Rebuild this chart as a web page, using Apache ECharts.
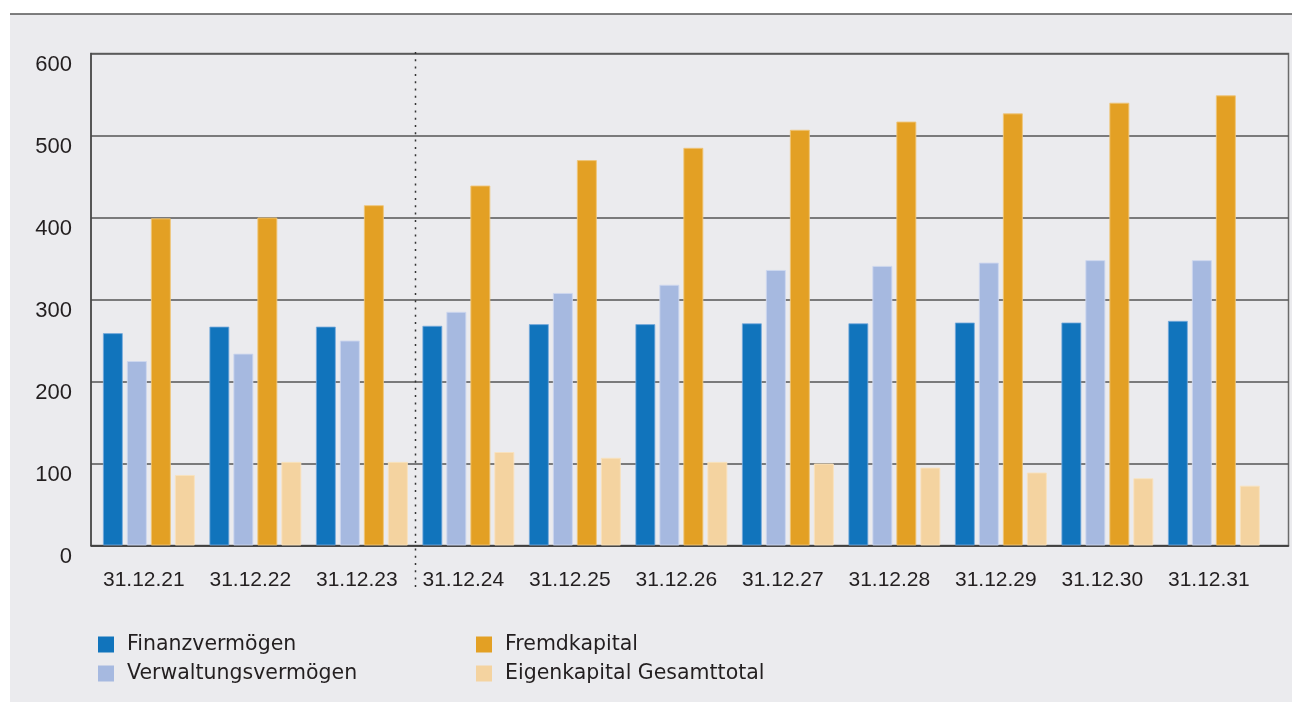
<!DOCTYPE html>
<html>
<head>
<meta charset="utf-8">
<script src="https://cdn.jsdelivr.net/npm/echarts@6/dist/echarts.min.js"></script>
<style>
  html, body { margin: 0; padding: 0; background: #ffffff; }
  #chart { width: 1292px; height: 702px; }
</style>
</head>
<body>
<div id="chart"></div>
<script>
// Balance sheet development, values in millions
const categories = ['31.12.21', '31.12.22', '31.12.23', '31.12.24', '31.12.25', '31.12.26',
                    '31.12.27', '31.12.28', '31.12.29', '31.12.30', '31.12.31'];
const finanzvermoegen      = [259, 267, 267, 268, 270, 270, 271, 271, 272, 272, 274];
const verwaltungsvermoegen = [225, 234, 250, 285, 308, 318, 336, 341, 345, 348, 348];
const fremdkapital         = [399, 400, 415, 439, 470, 485, 507, 517, 527, 540, 549];
const eigenkapital         = [86, 102, 102, 114, 107, 102, 100, 95, 89, 82, 73];
const yTicks = { min: 0, max: 600, step: 100 };

// index of the first projected year; a dotted divider is drawn before it
const forecastStart = 3;

const textColor = '#231f20';
const labelFont = 'Liberation Sans, Arial, Helvetica, sans-serif';
const legendFont = 'DejaVu Sans, Verdana, sans-serif';

const chart = echarts.init(document.getElementById('chart'), null, { renderer: 'canvas' });

function bar(name, values, color, border) {
  return {
    name: name,
    type: 'bar',
    xAxisIndex: 1,
    yAxisIndex: 1,
    data: values,
    barWidth: 20,
    barGap: '20%',
    itemStyle: { color: color, borderColor: border, borderWidth: 1 },
    emphasis: { disabled: true }
  };
}

const legendText = {
  fontFamily: legendFont,
  fontSize: 20.5,
  color: textColor,
  lineHeight: 20,
  padding: [0, 0, 0, 8]
};

function legendBlock(left, names) {
  return {
    orient: 'vertical', left: left, top: 634, itemWidth: 16, itemHeight: 16, itemGap: 8,
    icon: 'rect', selectedMode: false, padding: 0,
    itemStyle: { borderWidth: 0 },
    data: names,
    textStyle: legendText
  };
}

const panel = [
  { id: 'panel', type: 'rect', z: -10, silent: true, shape: { x: 10, y: 14, width: 1282, height: 688 },
    style: { fill: '#ebebee' } },
  { id: 'rule', type: 'line', z: -9, silent: true, shape: { x1: 10, y1: 14, x2: 1292, y2: 14 },
    style: { stroke: '#555555', lineWidth: 1.5 } }
];

chart.setOption({
  animation: false,
  backgroundColor: '#ffffff',
  graphic: panel,
  legend: [
    legendBlock(98, ['Finanzvermögen', 'Verwaltungsvermögen']),
    legendBlock(476, ['Fremdkapital', 'Eigenkapital Gesamttotal'])
  ],
  grid: [
    // frame, gridlines and value labels
    { left: 91, right: 3.5, top: 53.5, bottom: 156.5, show: true,
      borderColor: '#6b6b6b', borderWidth: 1.5, backgroundColor: 'transparent' },
    // bar area
    { left: 95.6, right: 24.9, top: 53.5, bottom: 156.5 }
  ],
  xAxis: [
    {
      type: 'category', gridIndex: 0, data: categories,
      axisLine: { show: true, lineStyle: { color: '#3a3a3a', width: 1.5 } },
      axisTick: { show: false }, axisLabel: { show: false }, splitLine: { show: false }
    },
    {
      type: 'category', gridIndex: 1, data: categories, boundaryGap: true,
      axisLine: { show: false },
      axisTick: { show: false },
      splitLine: { show: false },
      axisLabel: {
        margin: 24,
        interval: 0,
        formatter: function (v) { return '{t|' + v + '}{s|}'; },
        rich: {
          t: { fontFamily: labelFont, fontSize: 21, color: textColor },
          s: { width: 10 }
        }
      }
    }
  ],
  yAxis: [
    {
      type: 'value', gridIndex: 0, min: yTicks.min, max: yTicks.max, interval: yTicks.step,
      axisLine: { show: true, lineStyle: { color: '#444444', width: 1.5 } },
      axisTick: { show: false },
      splitLine: { show: true, lineStyle: { color: '#555555', width: 1.5 } },
      axisLabel: {
        margin: 19, fontFamily: labelFont, fontSize: 22, color: textColor,
        verticalAlign: 'top'
      }
    },
    {
      type: 'value', gridIndex: 1, min: yTicks.min, max: yTicks.max, interval: yTicks.step,
      axisLine: { show: false }, axisTick: { show: false },
      splitLine: { show: false }, axisLabel: { show: false }
    }
  ],
  series: [
    bar('Finanzvermögen', finanzvermoegen, '#1174bc', 'rgba(120,170,220,0.8)'),
    bar('Verwaltungsvermögen', verwaltungsvermoegen, '#a6b9e0', 'rgba(205,215,238,0.9)'),
    bar('Fremdkapital', fremdkapital, '#e3a024', 'rgba(238,196,120,0.9)'),
    bar('Eigenkapital Gesamttotal', eigenkapital, '#f4d3a0', 'rgba(248,226,190,0.9)')
  ]
});

// Dotted divider on the band boundary between actual and projected years
const xPrev = chart.convertToPixel({ xAxisIndex: 1 }, categories[forecastStart - 1]);
const xNext = chart.convertToPixel({ xAxisIndex: 1 }, categories[forecastStart]);
const xDivider = Math.round((xPrev + xNext) / 2) + 0.5;
const yTop = chart.convertToPixel({ yAxisIndex: 1 }, yTicks.max) - 1.5;
const yBase = chart.convertToPixel({ yAxisIndex: 1 }, yTicks.min);

chart.setOption({
  graphic: panel.concat([
    { id: 'divider', type: 'line', z: 5, silent: true,
      shape: { x1: xDivider, y1: yTop, x2: xDivider, y2: yBase + 45 },
      style: { stroke: '#333333', lineWidth: 1.5, lineDash: [2, 5.3] } }
  ])
});
</script>
</body>
</html>
